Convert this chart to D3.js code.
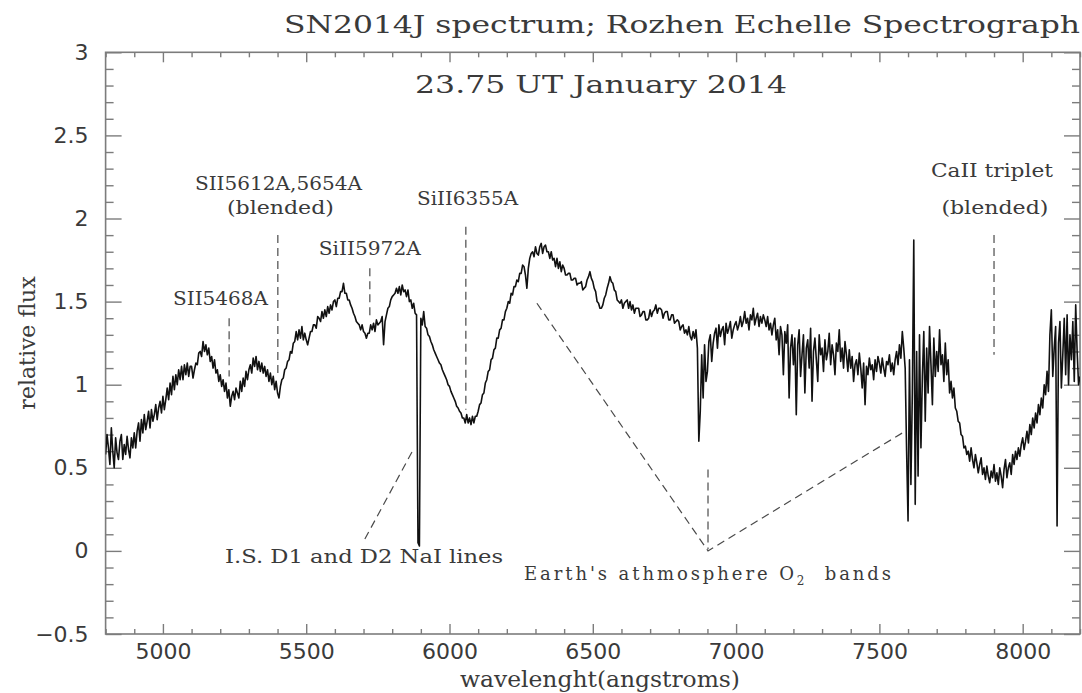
<!DOCTYPE html>
<html>
<head>
<meta charset="utf-8">
<script src="https://cdn.jsdelivr.net/npm/d3@7"></script>
<style>
  html, body { margin: 0; padding: 0; background: #ffffff; }
  svg { display: block; }
</style>
</head>
<body>
<svg id="chart" width="1082" height="693"></svg>
<script>
// Wavelength sampling of the extracted spectrum (angstroms)
const lambdaStart = 4800;
const lambdaStep = 5;

// Relative flux, one value per 5 A bin from 4800 A to 8200 A (20 bins per row)
const flux = [
  0.58,0.70,0.62,0.52,0.74,0.60,0.50,0.68,0.59,0.55,0.66,0.70,0.55,0.64,0.58,0.69,0.61,0.56,0.68,0.62, // 4800
  0.71,0.62,0.72,0.77,0.66,0.79,0.71,0.82,0.73,0.78,0.84,0.74,0.85,0.78,0.82,0.88,0.79,0.86,0.90,0.83, // 4900
  0.93,0.85,0.91,0.98,0.91,1.01,0.94,1.05,0.97,1.06,1.00,1.09,1.03,1.11,1.03,1.12,1.06,1.13,1.05,1.11, // 5000
  1.11,1.04,1.09,1.13,1.12,1.19,1.20,1.17,1.26,1.20,1.24,1.18,1.22,1.14,1.17,1.10,1.15,1.07,1.09,1.02, // 5100
  1.06,0.99,1.03,0.96,1.01,0.92,0.97,0.87,0.93,0.96,0.91,0.98,0.95,0.92,1.02,0.96,1.04,0.99,1.08,1.03, // 5200
  1.09,1.12,1.07,1.16,1.11,1.17,1.09,1.14,1.08,1.13,1.07,1.11,1.05,1.09,1.02,1.07,1.00,1.05,0.97,1.02, // 5300
  0.95,0.92,0.99,1.03,1.04,1.09,1.10,1.14,1.15,1.20,1.19,1.25,1.26,1.32,1.27,1.33,1.28,1.35,1.27,1.31, // 5400
  1.27,1.24,1.28,1.32,1.32,1.36,1.36,1.34,1.41,1.40,1.38,1.44,1.40,1.45,1.41,1.47,1.43,1.48,1.45,1.50, // 5500
  1.51,1.47,1.52,1.52,1.56,1.56,1.61,1.55,1.55,1.51,1.51,1.48,1.46,1.43,1.41,1.38,1.37,1.36,1.33,1.36, // 5600
  1.32,1.31,1.28,1.31,1.31,1.36,1.33,1.37,1.32,1.39,1.36,1.37,1.38,1.41,1.24,1.38,1.42,1.46,1.47,1.51, // 5700
  1.53,1.54,1.55,1.58,1.55,1.59,1.54,1.60,1.56,1.57,1.53,1.57,1.50,1.51,1.46,1.49,1.43,1.42,0.05,0.03, // 5800
  1.40,1.36,1.44,1.35,1.34,1.30,1.29,1.26,1.24,1.21,1.19,1.17,1.15,1.13,1.12,1.09,1.07,1.05,1.03,1.00, // 5900
  0.99,0.96,0.94,0.92,0.90,0.87,0.86,0.84,0.83,0.80,0.80,0.77,0.82,0.77,0.80,0.76,0.81,0.77,0.81,0.81, // 6000
  0.84,0.88,0.89,0.94,0.95,1.01,1.03,1.08,1.09,1.15,1.16,1.21,1.22,1.28,1.28,1.33,1.34,1.39,1.39,1.44, // 6100
  1.46,1.50,1.49,1.55,1.54,1.59,1.59,1.63,1.62,1.67,1.67,1.72,1.71,1.66,1.58,1.70,1.76,1.79,1.80,1.77, // 6200
  1.83,1.79,1.78,1.83,1.85,1.79,1.83,1.84,1.80,1.80,1.76,1.80,1.75,1.76,1.71,1.76,1.70,1.74,1.68,1.72, // 6300
  1.70,1.66,1.66,1.67,1.67,1.63,1.63,1.64,1.64,1.60,1.61,1.61,1.62,1.57,1.58,1.59,1.63,1.65,1.68,1.64, // 6400
  1.62,1.58,1.56,1.50,1.49,1.46,1.46,1.48,1.52,1.54,1.58,1.61,1.65,1.62,1.61,1.57,1.56,1.51,1.50,1.49, // 6500
  1.51,1.46,1.49,1.50,1.51,1.46,1.50,1.45,1.48,1.43,1.46,1.46,1.46,1.41,1.42,1.44,1.44,1.39,1.39,1.40, // 6600
  1.45,1.41,1.44,1.45,1.48,1.43,1.46,1.46,1.45,1.40,1.43,1.44,1.44,1.39,1.39,1.42,1.42,1.37,1.38,1.39, // 6700
  1.38,1.33,1.35,1.36,1.31,1.33,1.30,1.35,1.29,1.27,1.32,1.28,1.33,1.22,0.66,0.84,1.18,0.92,1.24,1.02, // 6800
  1.08,1.26,1.30,1.14,1.25,1.31,1.34,1.22,1.36,1.29,1.33,1.35,1.24,1.37,1.31,1.34,1.38,1.28,1.33,1.36, // 6900
  1.38,1.33,1.36,1.41,1.35,1.38,1.44,1.37,1.40,1.33,1.42,1.39,1.46,1.36,1.40,1.43,1.35,1.41,1.37,1.42, // 7000
  1.39,1.35,1.41,1.33,1.37,1.30,1.36,1.40,1.27,1.33,1.18,1.35,1.30,1.06,1.32,1.25,1.36,0.92,1.22,1.30, // 7100
  1.12,1.28,0.82,1.24,1.33,1.05,1.18,1.30,0.95,1.22,1.27,1.10,1.34,0.90,1.20,1.28,1.15,1.02,1.30,1.18, // 7200
  1.22,1.08,1.27,1.15,1.20,1.31,1.12,1.24,1.18,1.06,1.25,1.20,1.33,1.14,1.22,1.10,1.26,1.18,1.08,1.21, // 7300
  1.10,1.17,1.02,1.12,1.15,1.06,1.19,1.10,0.98,1.13,0.88,1.11,1.06,1.16,1.09,1.12,1.03,1.15,1.08,1.17, // 7400
  1.13,1.07,1.16,1.10,1.05,1.14,1.12,1.18,1.08,1.13,1.06,1.15,1.20,1.12,1.24,1.16,1.32,1.22,1.10,0.60, // 7500
  0.18,1.15,0.40,0.95,1.87,0.28,1.20,0.45,1.30,0.62,1.05,1.32,0.78,1.22,0.95,1.35,1.12,0.88,1.28,1.05, // 7600
  1.20,1.08,1.33,1.12,1.18,1.02,1.25,1.06,1.15,0.95,1.02,0.92,0.98,0.86,0.84,0.78,0.77,0.70,0.69,0.62, // 7700
  0.63,0.58,0.60,0.54,0.62,0.55,0.50,0.58,0.53,0.47,0.52,0.56,0.46,0.50,0.43,0.51,0.45,0.41,0.48,0.44, // 7800
  0.52,0.42,0.47,0.40,0.50,0.45,0.38,0.49,0.55,0.44,0.50,0.53,0.46,0.58,0.52,0.60,0.55,0.62,0.57,0.64, // 7900
  0.68,0.61,0.66,0.72,0.65,0.76,0.70,0.80,0.74,0.83,0.77,0.88,0.82,0.92,0.86,1.00,0.94,1.08,0.96,1.30, // 8000
  1.45,1.05,1.22,1.35,0.15,1.25,1.38,0.98,1.18,1.40,1.06,1.42,1.00,1.30,1.15,1.38,1.02,1.48,1.20,1.00, // 8100
  1.05                                                                                                // 8200
];

// Axis ranges and labelled ticks
const xDomain = [4800, 8200];
const yDomain = [-0.5, 3];
const xTickValues = [5000, 5500, 6000, 6500, 7000, 7500, 8000];
const yTickValues = [-0.5, 0, 0.5, 1, 1.5, 2, 2.5, 3];

// Line identifications: text and anchor (wavelength, flux of the baseline)
const lineLabelText   = ["SII5468A", "SII5612A,5654A", "(blended)", "SiII5972A", "SiII6355A", "CaII triplet", "(blended)"];
const lineLabelLambda = [5201, 5403, 5410, 5722, 6063, 7893, 7903];
const lineLabelFlux   = [1.48, 2.17, 2.03, 1.78, 2.08, 2.25, 2.03];

// Vertical markers for the identified features: wavelength, top flux, bottom flux
const markerLambda = [5231, 5401, 5722, 6057, 7900];
const markerTop    = [1.40, 1.90, 1.70, 1.95, 1.90];
const markerBottom = [1.05, 1.07, 1.39, 0.85, 1.18];

// Pointer lines (wavelength, flux) for the interstellar Na and telluric O2 notes
const naPointer = [[5869, 0.595], [5698, 0.05]];
const o2Pointer = [[6305, 1.49], [6902, 0.0], [7590, 0.72]];
const o2Stem    = [[6902, 0.49], [6902, 0.01]];

// ---------------------------------------------------------------
const W = 1082, H = 693;
const margin = { left: 105.6, right: 1082 - 1080, top: 52.3, bottom: 693 - 634 };
const plotW = W - margin.left - margin.right;
const plotH = H - margin.top - margin.bottom;

const svg = d3.select("#chart");
const g = svg.append("g").attr("transform", `translate(${margin.left},${margin.top})`);

const x = d3.scaleLinear().domain(xDomain).range([0, plotW]);
const y = d3.scaleLinear().domain(yDomain).range([plotH, 0]);

const axisColor = "#7c7c7c";
const textColor = "#3a3a3a";
const serif = "'DejaVu Serif', 'Liberation Serif', serif";
const sans = "'DejaVu Sans', 'Liberation Sans', sans-serif";

// minor tick positions
const xMinor = d3.range(4800, 8201, 100).filter(v => v % 500 !== 0);
const yMinor = d3.range(-5, 31).map(v => v / 10).filter(v => Math.abs(v * 2 - Math.round(v * 2)) > 1e-6);

function styleAxis(sel) {
  sel.select(".domain").remove();
  sel.selectAll(".tick line").attr("stroke", axisColor).attr("stroke-width", 1.4);
  sel.selectAll(".tick text").attr("fill", textColor)
     .style("font-family", sans).style("font-size", "22px");
}

const fmtY = v => (v < 0 ? "\u2212" : "") + Math.abs(v);

// bottom axis
g.append("g").attr("transform", `translate(0,${plotH})`)
  .call(d3.axisBottom(x).tickValues(xTickValues).tickSizeInner(-10).tickSizeOuter(0).tickPadding(9).tickFormat(d3.format("d")))
  .call(styleAxis);
g.append("g").attr("transform", `translate(0,${plotH})`)
  .call(d3.axisBottom(x).tickValues(xMinor).tickSizeInner(-5).tickSizeOuter(0).tickFormat(""))
  .call(styleAxis);
// top axis
g.append("g")
  .call(d3.axisTop(x).tickValues(xTickValues).tickSizeInner(-10).tickSizeOuter(0).tickFormat(""))
  .call(styleAxis);
g.append("g")
  .call(d3.axisTop(x).tickValues(xMinor).tickSizeInner(-5).tickSizeOuter(0).tickFormat(""))
  .call(styleAxis);
// left axis
g.append("g")
  .call(d3.axisLeft(y).tickValues(yTickValues).tickSizeInner(-16).tickSizeOuter(0).tickPadding(17).tickFormat(fmtY))
  .call(styleAxis);
g.append("g")
  .call(d3.axisLeft(y).tickValues(yMinor).tickSizeInner(-8).tickSizeOuter(0).tickFormat(""))
  .call(styleAxis);
// right axis
g.append("g").attr("transform", `translate(${plotW},0)`)
  .call(d3.axisRight(y).tickValues(yTickValues).tickSizeInner(-16).tickSizeOuter(0).tickFormat(""))
  .call(styleAxis);
g.append("g").attr("transform", `translate(${plotW},0)`)
  .call(d3.axisRight(y).tickValues(yMinor).tickSizeInner(-8).tickSizeOuter(0).tickFormat(""))
  .call(styleAxis);

// frame
g.append("rect").attr("x", 0).attr("y", 0).attr("width", plotW).attr("height", plotH)
  .attr("fill", "none").attr("stroke", axisColor).attr("stroke-width", 1.6);

// spectrum
g.append("clipPath").attr("id", "plotClip")
  .append("rect").attr("width", plotW).attr("height", plotH);

const spectrumLine = d3.line()
  .x((d, i) => x(lambdaStart + i * lambdaStep))
  .y(d => y(d));

g.append("path")
  .datum(flux)
  .attr("clip-path", "url(#plotClip)")
  .attr("fill", "none")
  .attr("stroke", "#111")
  .attr("stroke-width", 1.6)
  .attr("stroke-linejoin", "round")
  .attr("d", spectrumLine);

// dashed markers and pointers
const dashStyle = sel => sel.attr("fill", "none").attr("stroke", "#4a4a4a")
  .attr("stroke-width", 1.2).attr("stroke-dasharray", "8,5");

markerLambda.forEach((lam, i) => {
  g.append("line")
    .attr("x1", x(lam)).attr("x2", x(lam))
    .attr("y1", y(markerTop[i])).attr("y2", y(markerBottom[i]))
    .call(dashStyle);
});

const ptLine = d3.line().x(d => x(d[0])).y(d => y(d[1]));
[naPointer, o2Pointer, o2Stem].forEach(p => {
  g.append("path").attr("d", ptLine(p)).call(dashStyle);
});

// line identification labels
const labelWidths = { "SII5468A": 95, "SII5612A,5654A": 167, "(blended)": 107,
                      "SiII5972A": 102, "SiII6355A": 101, "CaII triplet": 122 };
lineLabelText.forEach((t, i) => {
  g.append("text")
    .attr("x", x(lineLabelLambda[i])).attr("y", y(lineLabelFlux[i]))
    .attr("text-anchor", "middle")
    .attr("textLength", labelWidths[t]).attr("lengthAdjust", "spacingAndGlyphs")
    .style("font-family", serif).style("font-size", "18px").attr("fill", textColor)
    .text(t);
});

// interstellar sodium note
g.append("text")
  .attr("x", x(5217)).attr("y", y(-0.073))
  .attr("textLength", 278).attr("lengthAdjust", "spacingAndGlyphs")
  .style("font-family", serif).style("font-size", "18px").attr("fill", textColor)
  .text("I.S. D1 and D2 NaI lines");

// telluric oxygen note with subscript
const o2 = g.append("text")
  .attr("x", x(6260)).attr("y", y(-0.175))
  .attr("textLength", 367).attr("lengthAdjust", "spacing")
  .style("font-family", serif).style("font-size", "18px").attr("fill", textColor);
o2.append("tspan").text("Earth's athmosphere O");
o2.append("tspan").attr("dy", 5).style("font-size", "12px").text("2");
o2.append("tspan").attr("dy", -5).text("\u00a0\u00a0bands");

// titles
svg.append("text")
  .attr("x", 1080).attr("y", 33).attr("text-anchor", "end")
  .attr("textLength", 796).attr("lengthAdjust", "spacingAndGlyphs")
  .style("font-family", serif).style("font-size", "24px").attr("fill", textColor)
  .text("SN2014J spectrum; Rozhen Echelle Spectrograph");

svg.append("text")
  .attr("x", 415).attr("y", 93)
  .attr("textLength", 372).attr("lengthAdjust", "spacingAndGlyphs")
  .style("font-family", serif).style("font-size", "25px").attr("fill", textColor)
  .text("23.75 UT January 2014");

// axis titles
svg.append("text")
  .attr("x", 600).attr("y", 687).attr("text-anchor", "middle")
  .attr("textLength", 280).attr("lengthAdjust", "spacingAndGlyphs")
  .style("font-family", serif).style("font-size", "23px").attr("fill", textColor)
  .text("wavelenght(angstroms)");

svg.append("text")
  .attr("transform", "translate(35,343) rotate(-90)")
  .attr("text-anchor", "middle")
  .style("font-family", serif).style("font-size", "22px").attr("fill", textColor)
  .text("relative flux");
</script>
</body>
</html>
